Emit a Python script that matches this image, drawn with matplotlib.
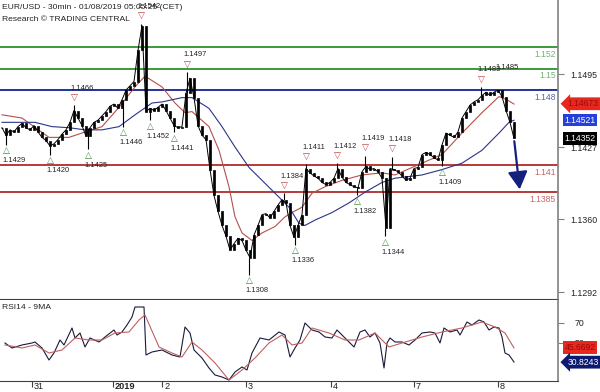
import numpy as np
import matplotlib.pyplot as plt

plt.rcParams['font.family'] = ['Liberation Sans', 'DejaVu Sans']

# EUR/USD 30min closes, one value per slot (~2 bars), 31 Dec -> 8 Jan
close = [1.1445, 1.1438, 1.1443, 1.1441, 1.1446, 1.1449, 1.1445, 1.1443, 1.1447, 1.1441,
         1.1436, 1.1433, 1.1428, 1.1430, 1.1434, 1.1439, 1.1443, 1.1450, 1.1461, 1.1454,
         1.1447, 1.1437, 1.1445, 1.1450, 1.1452, 1.1456, 1.1460, 1.1465, 1.1467, 1.1463,
         1.1471, 1.1480, 1.1484, 1.1488, 1.1517, 1.1540, 1.1460, 1.1463, 1.1461, 1.1464,
         1.1467, 1.1461, 1.1454, 1.1447, 1.1445, 1.1446, 1.1477, 1.1491, 1.1473, 1.1447,
         1.1438, 1.1434, 1.1406, 1.1382, 1.1367, 1.1354, 1.1344, 1.1331, 1.1337, 1.1342,
         1.1340, 1.1331, 1.1324, 1.1345, 1.1354, 1.1364, 1.1365, 1.1361, 1.1367, 1.1373,
         1.1378, 1.1375, 1.1354, 1.1343, 1.1354, 1.1364, 1.1407, 1.1403, 1.1400, 1.1398,
         1.1394, 1.1392, 1.1394, 1.1398, 1.1407, 1.1399, 1.1394, 1.1392, 1.1390, 1.1389,
         1.1404, 1.1409, 1.1406, 1.1407, 1.1404, 1.1398, 1.1352, 1.1407, 1.1406, 1.1404,
         1.1400, 1.1396, 1.1398, 1.1407, 1.1408, 1.1420, 1.1422, 1.1420, 1.1417, 1.1415,
         1.1429, 1.1440, 1.1438, 1.1436, 1.1441, 1.1454, 1.1460, 1.1466, 1.1469, 1.1471,
         1.1475, 1.1478, 1.1475, 1.1478, 1.1480, 1.1474, 1.1461, 1.1450, 1.1435]

# moving averages (red = fast, blue = slow)
fast_t = [0, 5, 11.75, 16.75, 20.75, 25, 29.25, 33.25, 35.75, 40,
          43.25, 45.75, 47.5, 51.75, 54.25, 56.75, 58.25, 60, 62.5, 65,
          68.25, 70.75, 72.5, 75, 77.5, 80.75, 85, 90, 95, 98.25,
          105, 110, 115, 120, 124.25, 126.25, 128]
fast_ma = [1.1457, 1.1454, 1.1436, 1.1436, 1.1441, 1.1446, 1.1464, 1.1483, 1.1493, 1.1483,
           1.1468, 1.1459, 1.1460, 1.1446, 1.1424, 1.1390, 1.1362, 1.1347, 1.1340, 1.1347,
           1.1353, 1.1362, 1.1366, 1.1371, 1.1384, 1.1390, 1.1396, 1.1401, 1.1403, 1.1401,
           1.1412, 1.1420, 1.1440, 1.1459, 1.1474, 1.1471, 1.1467]
slow_t = [0, 8.25, 12.5, 16.75, 20.75, 25, 29.25, 33.25, 37.5, 40,
          45, 47.5, 51.75, 55, 58.25, 61.75, 65, 68.25, 71.75, 74.25,
          75.75, 78.25, 82.5, 86.75, 90.75, 95, 98.25, 105, 110, 115,
          120, 124.25, 126.75, 128]
slow_ma = [1.1450, 1.1450, 1.1446, 1.1445, 1.1443, 1.1443, 1.1446, 1.1457, 1.1468, 1.1469,
           1.1473, 1.1473, 1.1463, 1.1446, 1.1427, 1.1408, 1.1396, 1.1384, 1.1371, 1.1356,
           1.1354, 1.1359, 1.1366, 1.1375, 1.1385, 1.1394, 1.1398, 1.1401, 1.1406, 1.1412,
           1.1424, 1.1440, 1.1450, 1.1452]

# RSI14 and its 9 period average
rsi_t = [0.75, 2.5, 5, 7.5, 8.25, 10, 11.75, 13, 14.5, 15.5,
         17.5, 18.25, 19.5, 20.75, 22, 24.25, 25.75, 28, 28.75, 30,
         31.25, 32.5, 33.25, 35.5, 36, 37.5, 40, 42.5, 44.5, 45.75,
         47, 48, 50, 51.75, 53.25, 55, 56.75, 58.25, 60, 61.25,
         62.5, 64.5, 66.75, 69.25, 70.75, 72, 73.25, 74.5, 75.75, 77.5,
         79.25, 80.75, 82.5, 83.75, 85.75, 88, 89.5, 90.75, 92, 93.25,
         94.5, 95.5, 96.25, 97, 98.25, 100, 101.75, 103.25, 105, 107,
         108.25, 109.5, 110.5, 112, 113.75, 114.5, 116.25, 117.5, 119.25, 120.5,
         121.75, 123, 124.25, 125, 125.75, 126.75, 128]
rsi = [50, 45, 48, 50, 51, 45, 33, 40, 53, 48,
       65, 55, 60, 46, 55, 51, 56, 63, 58, 61,
       68, 76, 86, 86, 38, 41, 43, 38, 36, 66,
       60, 43, 35, 25, 18, 16, 13, 21, 26, 23,
       40, 55, 53, 61, 58, 36, 45, 53, 70, 63,
       61, 56, 55, 63, 55, 46, 61, 63, 56, 60,
       50, 25, 50, 55, 51, 51, 48, 53, 60, 61,
       60, 50, 65, 61, 63, 58, 71, 68, 73, 71,
       63, 66, 65, 56, 40, 38, 31]
rsi_ma_t = [0.75, 5, 8.25, 11.75, 15, 18.25, 21.75, 25, 28.25, 31.75,
            34.25, 35.75, 39.25, 42.5, 45, 47.5, 50, 53.25, 56.75, 60,
            63.25, 66.75, 70, 72.5, 75, 77.5, 81.75, 85.75, 89.25, 93.25,
            96.75, 100, 105, 110, 115, 120, 123.25, 125.75, 128]
rsi_ma = [48, 45, 48, 40, 43, 55, 53, 53, 60, 61,
          73, 78, 46, 40, 36, 51, 43, 30, 13, 23,
          35, 50, 58, 48, 50, 65, 60, 53, 53, 60,
          46, 50, 56, 61, 65, 71, 66, 60, 45]

# swing points marked on the chart
low_t = [1, 12, 21.5, 30.25, 37, 43, 61.75, 73.25, 88.75, 95.75, 110]
low_val = [1.1429, 1.1420, 1.1425, 1.1446, 1.1452, 1.1441, 1.1308, 1.1336, 1.1382, 1.1344, 1.1409]
high_t = [18, 34.75, 46.25, 70.5, 76, 83.75, 90.75, 97.5, 119.75]
high_val = [1.1466, 1.1542, 1.1497, 1.1384, 1.1411, 1.1412, 1.1419, 1.1418, 1.1483]
peak_t, peak_val = 124.25, 1.1485

# support / resistance levels and target
levels = [1.152, 1.15, 1.148, 1.141, 1.1385]
level_labels = ['1.152', '1.15', '1.148', '1.141', '1.1385']
level_colors = ['#3a9a3a', '#3a9a3a', '#26309e', '#b83a3a', '#b83a3a']
level_text_colors = ['#74b074', '#74b074', '#5a64ac', '#c86464', '#c86464']
target = 1.1385

day_t = [7.5, 27.75, 40, 61, 82.25, 103, 124]
day_labels = ['31', '2019', '2', '3', '4', '7', '8']
price_ticks = [1.1495, 1.1427, 1.1360, 1.1292]
rsi_ticks = [70, 50]
last_fast, last_slow, last_close = 1.14673, 1.14521, 1.14352
last_rsi_ma, last_rsi = 45.6692, 30.8243

axis_col = '#808080'
fig = plt.figure(figsize=(6, 3.92), dpi=100)
ax = fig.add_axes([0, 0.2372, 0.93, 0.7628])
ax2 = fig.add_axes([0, 0.0281, 0.93, 0.2066], sharex=ax)

# candles: open = previous close
c = np.array(close)
o = np.r_[c[0], c[:-1]]
x = np.arange(len(c))
ax.plot(x, c, color='k', lw=0.7, zorder=3)
ax.bar(x, c - o, bottom=o, width=0.7, color='k', edgecolor='k', lw=0.5, zorder=3)

# wicks to the marked extremes
for t, v in list(zip(low_t, low_val)) + list(zip(high_t, high_val)):
    ax.vlines(t, c[int(round(t))], v, color='k', lw=0.8, zorder=3)

ax.plot(fast_t, fast_ma, color='#b4504a', lw=0.8, zorder=2)
ax.plot(slow_t, slow_ma, color='#2c3488', lw=0.8, zorder=2)

for lv, lab, lc, tc in zip(levels, level_labels, level_colors, level_text_colors):
    ax.axhline(lv, color=lc, lw=1.4, zorder=1)
    ax.annotate(lab, xy=(1, lv), xycoords=('axes fraction', 'data'),
                xytext=(-2, -7), textcoords='offset pixels', ha='right', va='center',
                fontsize=6.2, color=tc)

for t, v in zip(low_t, low_val):
    ax.annotate('\u25b3', xy=(t, v), xytext=(0, -6), textcoords='offset pixels',
                ha='center', va='center', fontsize=6.5, color='#3a8a3a', family='DejaVu Sans')
    ax.annotate(f'{v:.4f}', xy=(t, v), xytext=(-4, -16), textcoords='offset pixels',
                ha='left', va='center', fontsize=5.4, color='#222222')
for t, v in zip(high_t, high_val):
    ax.annotate('\u25bd', xy=(t, v), xytext=(0, 7), textcoords='offset pixels',
                ha='center', va='center', fontsize=6.5, color='#c04040', family='DejaVu Sans')
    ax.annotate(f'{v:.4f}', xy=(t, v), xytext=(-4, 17), textcoords='offset pixels',
                ha='left', va='center', fontsize=5.4, color='#222222')
ax.annotate(f'{peak_val:.4f}', xy=(peak_t, peak_val), xytext=(-4, 17), textcoords='offset pixels',
            ha='left', va='center', fontsize=5.4, color='#222222')

# projected move down to the target
ax.annotate('', xy=(129.5, target), xytext=(x[-1], c[-1]),
            arrowprops=dict(arrowstyle='-|>,head_length=0.9,head_width=0.5',
                            color='#14207e', lw=1.6, mutation_scale=12), zorder=4)

ax.set_xlim(-0.5, 139)
ax.set_ylim(1.12855, 1.15639)
ax.yaxis.tick_right()
ax.set_yticks(price_ticks)
ax.set_yticklabels([f'{p:.4f}' for p in price_ticks])
ax.tick_params(axis='y', length=4, width=0.8, color=axis_col, pad=5, labelsize=6.3, labelcolor='#222222')
ax.tick_params(axis='x', bottom=False, labelbottom=False)
for s in ['top', 'left']:
    ax.spines[s].set_visible(False)
ax.spines['right'].set_color(axis_col)
ax.spines['right'].set_linewidth(1.2)
ax.spines['bottom'].set_color('#404040')
ax.spines['bottom'].set_linewidth(0.8)

ax.text(0.004, 0.985, 'EUR/USD - 30min - 01/08/2019 05:05:25 (CET)', transform=ax.transAxes,
        ha='left', va='top', fontsize=6.1, color='#222222')
ax.text(0.004, 0.945, 'Research \u00a9 TRADING CENTRAL', transform=ax.transAxes,
        ha='left', va='top', fontsize=6.1, color='#222222')

# value boxes on the price scale
def value_box(axis, val, text, fc, tc, arrow):
    style = 'larrow,pad=0.22' if arrow else 'square,pad=0.22'
    axis.annotate(text, xy=(1, val), xycoords=('axes fraction', 'data'),
                  xytext=(22 if not arrow else 25, 0), textcoords='offset pixels',
                  ha='center', va='center', fontsize=6.2, color=tc, annotation_clip=False,
                  bbox=dict(boxstyle=style, fc=fc, ec='none'))

value_box(ax, last_fast, f'{last_fast:.5f}', '#e8281e', '#9a0a0a', True)
value_box(ax, last_slow, f'{last_slow:.5f}', '#2440d8', 'white', False)
value_box(ax, last_close, f'{last_close:.5f}', 'black', 'white', False)

# RSI panel
ax2.plot(rsi_t, rsi, color='#1a1a3a', lw=0.8)
ax2.plot(rsi_ma_t, rsi_ma, color='#c06060', lw=0.8)
ax2.set_ylim(12, 93)
ax2.yaxis.tick_right()
ax2.set_yticks(rsi_ticks)
ax2.tick_params(axis='y', length=4, width=0.8, color=axis_col, pad=8, labelsize=6.3, labelcolor='#222222')
ax2.set_xticks(day_t)
ax2.set_xticklabels([])
ax2.tick_params(axis='x', length=4, width=0.8, color='#404040', direction='out')
for s in ['top', 'left']:
    ax2.spines[s].set_visible(False)
ax2.spines['right'].set_color(axis_col)
ax2.spines['right'].set_linewidth(1.2)
ax2.spines['bottom'].set_color('#404040')
ax2.spines['bottom'].set_linewidth(0.8)
ax2.text(0.004, 0.95, 'RSI14 - 9MA', transform=ax2.transAxes, ha='left', va='top',
         fontsize=6.1, color='#222222')
for t, lab in zip(day_t, day_labels):
    ax2.annotate(lab, xy=(t, 0), xycoords=('data', 'axes fraction'), xytext=(2, -6),
                 textcoords='offset pixels', ha='left', va='center', fontsize=6.6,
                 color='#222222', fontweight='bold' if lab == '2019' else 'normal',
                 annotation_clip=False)

value_box(ax2, last_rsi_ma, f'{last_rsi_ma:.4f}', '#e8281e', '#9a0a0a', False)
value_box(ax2, last_rsi, f'{last_rsi:.4f}', '#0c1a70', 'white', True)

fig.savefig('out.png', dpi=100)
